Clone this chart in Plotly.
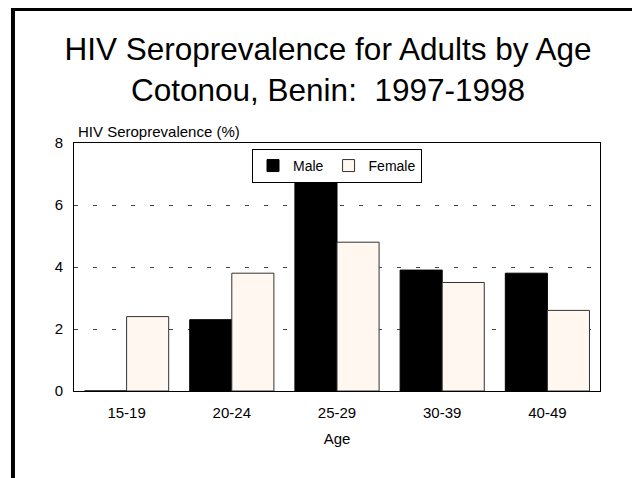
import plotly.graph_objects as go

ages = ["15-19", "20-24", "25-29", "30-39", "40-49"]
male = [0.0, 2.3, 6.8, 3.9, 3.8]
female = [2.4, 3.8, 4.8, 3.5, 2.6]
y_ticks = [0, 2, 4, 6, 8]

FONT = "Liberation Sans, Arial, sans-serif"

# The page body has an 8px margin, so the figure is 632x470 to fill the 640x478 window.
W, H = 632, 470

fig = go.Figure()
fig.add_trace(go.Bar(name="Male", x=ages, y=male,
                     marker=dict(color="#000000", line=dict(color="#000000", width=1))))
fig.add_trace(go.Bar(name="Female", x=ages, y=female,
                     marker=dict(color="#FFF7F0", line=dict(color="#333333", width=1))))

fig.update_layout(
    width=W, height=H,
    margin=dict(l=66, r=40, t=135, b=87),
    paper_bgcolor="white", plot_bgcolor="white",
    font=dict(family=FONT, color="black", size=15),
    barmode="group", bargap=0.2, bargroupgap=0,
    showlegend=True,
    title=dict(text="HIV Seroprevalence for Adults by Age<br>Cotonou, Benin:&nbsp; 1997-1998",
               x=320/W, xref="container", xanchor="center",
               y=1-52/H, yref="container", yanchor="middle",
               font=dict(size=31.5, family=FONT, color="black")),
    legend=dict(orientation="h", x=(337-74)/526, xanchor="center", y=0.976, yanchor="top",
                bordercolor="black", borderwidth=1, bgcolor="white",
                font=dict(size=14), itemwidth=30, tracegroupgap=0),
    xaxis=dict(showline=True, linecolor="black", linewidth=1, mirror=True,
               showgrid=False, ticks="", ticklabelstandoff=8,
               title=dict(text="Age", standoff=13, font=dict(size=15))),
    yaxis=dict(range=[0, 8], tickvals=y_ticks, showline=True, linecolor="black",
               linewidth=1, mirror=True, showgrid=True, gridcolor="#444444",
               griddash="4px,15px", gridwidth=1, zeroline=False, ticks="",
               ticklabelstandoff=7),
    annotations=[dict(text="HIV Seroprevalence (%)", xref="paper", yref="paper",
                      x=0.004, y=1.048, xanchor="left", yanchor="middle",
                      showarrow=False, font=dict(size=15, family=FONT))],
    shapes=[
        dict(type="line", xref="paper", yref="paper", x0=-0.116, x1=-0.116,
             y0=1.545, y1=-0.36, line=dict(color="black", width=4)),
        dict(type="line", xref="paper", yref="paper", x0=-0.1198, x1=1.1,
             y0=(383-1.5)/248, y1=(383-1.5)/248, line=dict(color="black", width=3)),
    ],
)

fig.write_html("out.html")
